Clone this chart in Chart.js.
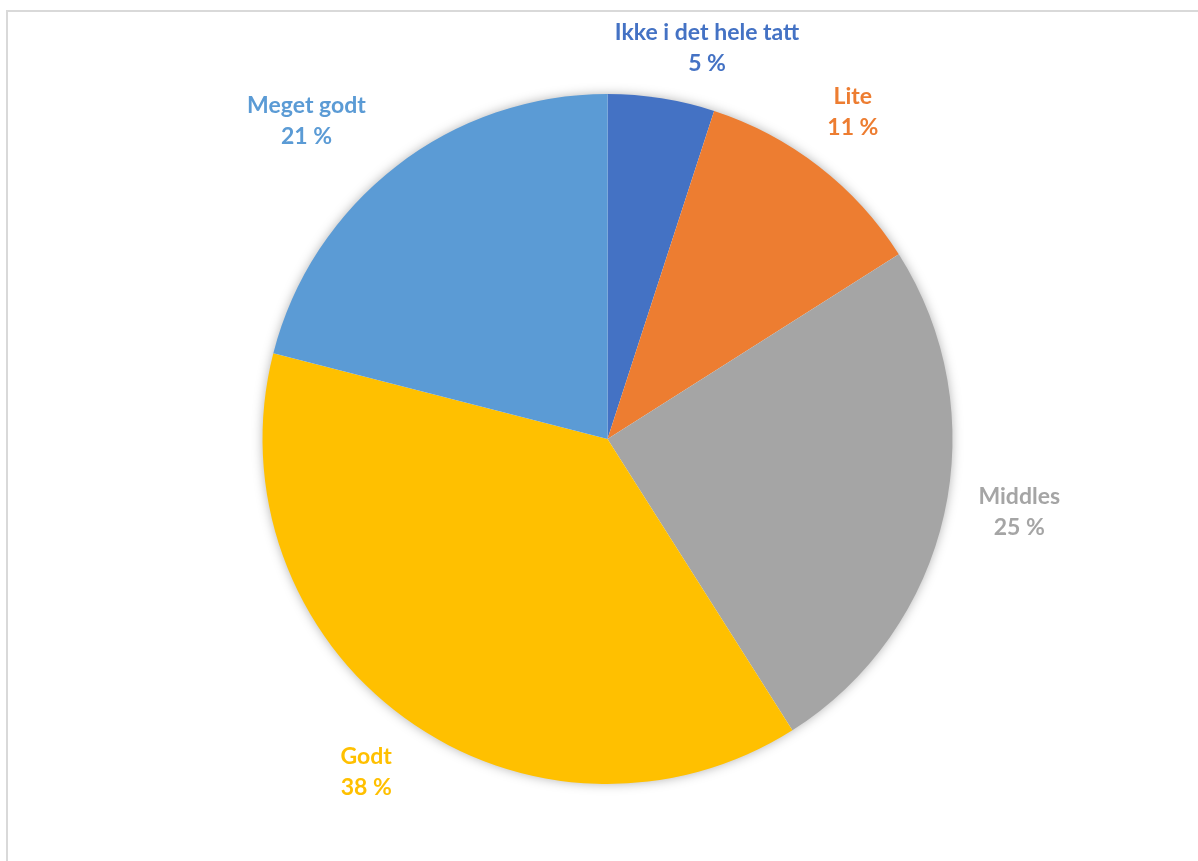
<!DOCTYPE html>
<html>
<head>
<meta charset="utf-8">
<script src="https://cdn.jsdelivr.net/npm/chart.js@4.4.1/dist/chart.umd.min.js"></script>
<style>
    html, body { margin: 0; padding: 0; background: #fff; }
    #wrap { position: relative; width: 1198px; height: 861px; }
    #frame {
        position: absolute; left: 6px; top: 10px; right: 0; bottom: 0;
        border-left: 2px solid #d9d9d9; border-top: 2px solid #d9d9d9;
    }
    #pie { position: absolute; left: 0; top: 0; }
</style>
</head>
<body>
<div id="wrap">
    <div id="frame"></div>
    <canvas id="pie" width="1198" height="861"></canvas>
</div>
<script>
const kategorier = ["Ikke i det hele tatt", "Lite", "Middles", "Godt", "Meget godt"];
const andeler = [5, 11, 25, 38, 21];
const farger = ["#4472C4", "#ED7D31", "#A5A5A5", "#FFC000", "#5B9BD5"];

document.addEventListener('DOMContentLoaded', function() {
    const ctx = document.getElementById('pie').getContext('2d');

    // skygge bak sirkelen
    const skygge = {
        id: 'skygge',
        beforeDatasetsDraw(chart) {
            const arc = chart.getDatasetMeta(0).data[0];
            if (!arc) return;
            const c = chart.ctx;
            c.save();
            c.shadowColor = 'rgba(0,0,0,0.35)';
            c.shadowBlur = 12;
            c.fillStyle = '#fff';
            c.beginPath();
            c.arc(arc.x, arc.y, arc.outerRadius - 1, 0, Math.PI * 2);
            c.fill();
            c.restore();
        }
    };

    // etiketter utenfor sektorene, to linjer: navn og prosent
    const etiketter = {
        id: 'etiketter',
        afterDatasetsDraw(chart, args, opts) {
            const c = chart.ctx;
            const meta = chart.getDatasetMeta(0);
            c.save();
            c.font = opts.font;
            c.textAlign = 'center';
            c.textBaseline = 'middle';
            meta.data.forEach((arc, i) => {
                const vinkel = (arc.startAngle + arc.endAngle) / 2;
                const d = arc.outerRadius + opts.avstand;
                const linjer = [kategorier[i], andeler[i] + ' %'];
                const w = Math.max(...linjer.map(t => c.measureText(t).width));
                const h = opts.linjehoyde * 2;
                const dx = Math.cos(vinkel), dy = Math.sin(vinkel);
                const flytt = opts.justering[i];
                const cx = arc.x + dx * d + dx * w / 2 + flytt[0];
                const cy = arc.y + dy * d + dy * h / 2 + flytt[1];
                c.fillStyle = farger[i];
                c.fillText(linjer[0], cx, cy - opts.linjehoyde / 2);
                c.fillText(linjer[1], cx, cy + opts.linjehoyde / 2);
            });
            c.restore();
        }
    };

    new Chart(ctx, {
        type: 'pie',
        data: {
            labels: kategorier,
            datasets: [{
                data: andeler,
                backgroundColor: farger,
                borderWidth: 0
            }]
        },
        options: {
            responsive: false,
            animation: false,
            layout: {
                padding: { left: 262, right: 245, top: 94, bottom: 77 }
            },
            plugins: {
                legend: { display: false },
                tooltip: { enabled: false },
                etiketter: {
                    font: 'bold 23px Lato',
                    linjehoyde: 31,
                    avstand: 33,
                    justering: [[26, 13], [-2, -4], [3, -16], [-4, 2], [-33, 5]]
                }
            }
        },
        plugins: [skygge, etiketter]
    });
});
</script>
</body>
</html>
